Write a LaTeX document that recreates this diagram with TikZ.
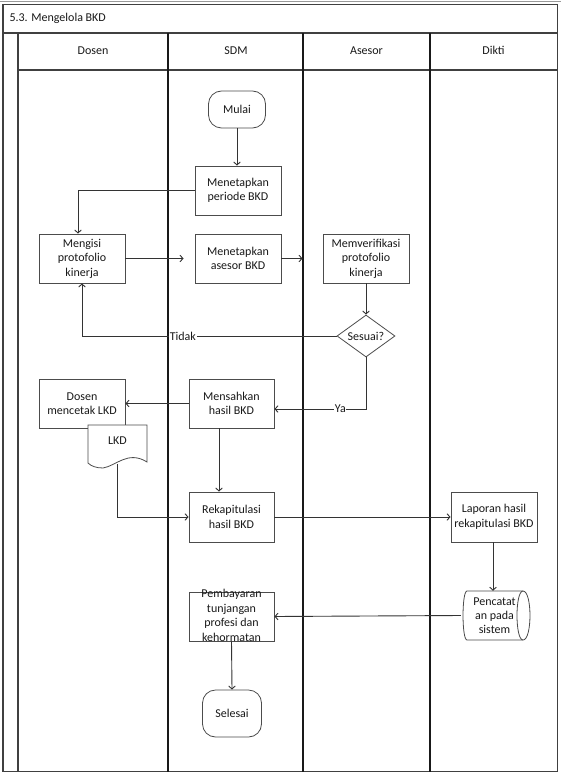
\documentclass[tikz,border=0pt]{standalone}
\usepackage{fontspec}
\setmainfont{Carlito}
\usetikzlibrary{arrows.meta,shapes.geometric}
\tikzset{
  txt/.style={font=\fontsize{12}{14.5}\selectfont, text=black!90, align=center},
  box/.style={txt, draw=black!70, line width=0.8pt, fill=white, rectangle, inner sep=0pt, minimum width=86pt, minimum height=49pt},
  term/.style={box, rounded corners=13pt},
  dec/.style={txt, draw=black!70, line width=0.8pt, fill=white, diamond, aspect=1.38, inner sep=0pt, minimum width=58pt, minimum height=42pt},
  arr/.style={draw=black!80, line width=0.9pt, -{Straight Barb[length=3pt,width=6.5pt]}},
  plain/.style={draw=black!80, line width=0.9pt},
  lbl/.style={txt, fill=white, inner sep=1pt},
  lane/.style={draw=black!90, line width=1.5pt},
  frame/.style={draw=black!75, line width=1.1pt},
  hdr/.style={txt}
}
\begin{document}
\begin{tikzpicture}[x=1pt,y=-1pt]
\useasboundingbox (0,0) rectangle (561,775);
\fill[white] (0,0) rectangle (561,775);
% frame
\draw[draw=black!40, line width=0.8pt] (0,1) -- (561,1);
\draw[frame] (3,4.5) rectangle (557.5,771.5);
\draw[frame] (3,33) -- (557.5,33);
\draw[frame] (18,70) -- (557.5,70);
\draw[frame] (18,33) -- (18,771.5);
\draw[lane] (168,33) -- (168,771.5);
\draw[lane] (303,33) -- (303,771.5);
\draw[lane] (430,33) -- (430,771.5);
\node[txt, anchor=west] (title) at (6,18.5) {5.3. Mengelola BKD};
\node[hdr] (hdosen) at (93,50.5) {Dosen};
\node[hdr] (hsdm) at (236,50.5) {SDM};
\node[hdr] (hasesor) at (366.5,50.5) {Asesor};
\node[hdr] (hdikti) at (493.5,50.5) {Dikti};
% nodes
\node[term, minimum width=57pt, minimum height=37pt] (mulai) at (237,109.5) {Mulai};
\node[box] (periode) at (238,190.5) {Menetapkan\\periode BKD};
\node[box] (mengisi) at (82,258.5) {Mengisi\\protofolio\\kinerja};
\node[box] (asesor) at (238,258.5) {Menetapkan\\asesor BKD};
\node[box] (verif) at (366,258.5) {Memverifikasi\\protofolio\\kinerja};
\node[dec] (sesuai) at (366,336) {Sesuai?};
\node[box, minimum width=85pt] (mensahkan) at (231.5,403.5) {Mensahkan\\hasil BKD};
\node[box] (mencetak) at (82,403.5) {Dosen\\mencetak LKD};
% LKD document
\fill[white] (88,425) -- (147,425) -- (147,462) .. controls (128,450) and (116,466) .. (103,468) .. controls (96,468) and (91,466) .. (88,463) -- cycle;
\draw[draw=black!70, line width=0.8pt] (88,425) -- (147,425) -- (147,462) .. controls (128,450) and (116,466) .. (103,468) .. controls (96,468) and (91,466) .. (88,463) -- cycle;
\node[txt, minimum width=59pt, minimum height=30pt, inner sep=0pt] (lkd) at (117.5,441) {LKD};
\coordinate (lkdb) at (117,464);
\node[box, minimum width=85pt, minimum height=50pt] (rekap) at (231.5,517) {Rekapitulasi\\hasil BKD};
\node[box, minimum height=50pt] (laporan) at (494,517) {Laporan hasil\\rekapitulasi BKD};
% stored data
\draw[draw=black!70, line width=0.8pt, fill=white] (467,591) -- (523,591) .. controls (532.3,591) and (532.3,640) .. (523,640) -- (467,640) .. controls (461.7,640) and (461.7,591) .. (467,591) -- cycle;
\draw[draw=black!70, line width=0.8pt] (523,591) .. controls (515,591) and (515,640) .. (523,640);
\node[txt, inner sep=0pt, minimum width=67pt, minimum height=49pt, font=\fontsize{12}{14}\selectfont] (pencatat) at (494.5,615.5) {Pencatat\\an pada\\sistem};
\node[box, minimum width=85pt, minimum height=49pt, text height=0pt, text depth=0pt] (bayar) at (231.5,616.5) {};
\node[txt, inner sep=0pt] (bayartxt) at (231.5,615.5) {Pembayaran\\tunjangan\\profesi dan\\kehormatan};
\node[term, minimum width=59pt, minimum height=47pt] (selesai) at (232,713.5) {Selesai};
% connectors
\draw[arr] (mulai.south) -- (mulai.south |- periode.north);
\draw[arr] (periode.west) -| ([xshift=-4pt]mengisi.north);
\draw[arr, shorten >=11pt] (mengisi.east) -- (asesor.west);
\draw[arr, shorten >=20pt] (asesor.east) -- (verif.west);
\draw[arr] (verif.south) -- (sesuai.north);
\draw[arr] (sesuai.west) -- node[lbl, pos=0.604]{Tidak} (mengisi.south |- sesuai.west) -- (mengisi.south);
\draw[arr] (sesuai.south) |- node[lbl, pos=0.64, inner sep=0.5pt]{Ya} ([yshift=-5.5pt]mensahkan.east);
\draw[arr] (mensahkan.west) -- (mencetak.east);
\draw[arr] ([xshift=-12.5pt]mensahkan.south) -- ([xshift=-12.5pt]rekap.north);
\draw[arr] (lkdb) |- (rekap.west);
\draw[arr] (rekap.east) -- (laporan.west);
\draw[arr] ([xshift=-1pt]laporan.south) -- ([xshift=-1.5pt]pencatat.north);
\draw[arr] (pencatat.west) -- (bayar.east);
\draw[arr] (bayar.south) -- (selesai.north);
\end{tikzpicture}
\end{document}
